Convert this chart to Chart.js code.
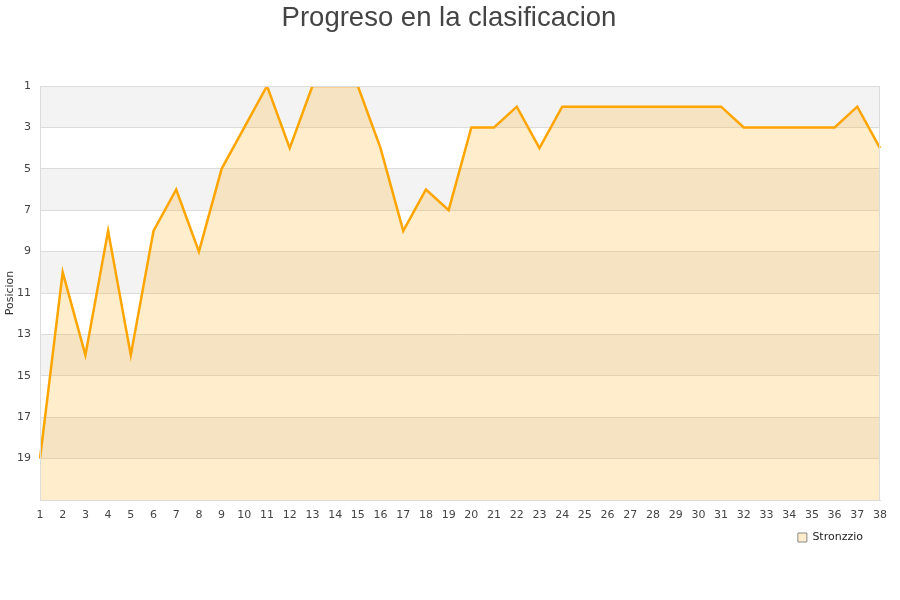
<!DOCTYPE html>
<html>
<head>
<meta charset="utf-8">
<script src="https://cdn.jsdelivr.net/npm/chart.js@4.4.0/dist/chart.umd.min.js"></script>
<style>
  html, body { margin: 0; padding: 0; background: #fff; }
  #wrap { width: 900px; height: 600px; }
</style>
</head>
<body>
<div id="wrap"><canvas id="grafico"></canvas></div>
<script>
// Jornadas y posicion de Stronzzio
const jornadas = Array.from({ length: 38 }, (_, i) => String(i + 1));
const posiciones = [19, 10, 14, 8, 14, 8, 6, 9, 5, 3,
                    1, 4, 1, 1, 1, 4, 8, 6, 7, 3,
                    3, 2, 4, 2, 2, 2, 2, 2, 2, 2,
                    2, 3, 3, 3, 3, 3, 2, 4];
const bandasGrises = [[1, 3], [5, 7], [9, 11], [13, 15], [17, 19]];

// Bandas alternas en el fondo del area de dibujo
const fondoBandas = {
    id: 'fondoBandas',
    afterLayout(chart) {
        // la leyenda queda algo separada del borde derecho
        if (chart.legend) chart.legend.right -= 11;
        // el titulo va centrado en todo el lienzo
        if (chart.titleBlock) chart.titleBlock.left += 18;
    },
    beforeDraw(chart) {
        const { ctx, chartArea: a, scales: { y } } = chart;
        ctx.save();
        ctx.fillStyle = '#f3f3f3';
        bandasGrises.forEach(([d, h]) => {
            const y1 = y.getPixelForValue(d);
            const y2 = y.getPixelForValue(h);
            ctx.fillRect(a.left, y1, a.right - a.left, y2 - y1);
        });
        ctx.restore();
    },
    afterDatasetsDraw(chart) {
        const { ctx, chartArea: a } = chart;
        ctx.save();
        ctx.strokeStyle = '#dcdcdc';
        ctx.lineWidth = 1;
        ctx.strokeRect(a.left + 0.5, a.top + 0.5, a.right - a.left - 1, a.bottom - a.top);
        ctx.restore();
    }
};

new Chart(document.getElementById('grafico'), {
    type: 'line',
    data: {
        labels: jornadas,
        datasets: [{
            label: 'Stronzzio',
            data: posiciones,
            borderColor: '#ffa500',
            backgroundColor: 'rgba(255,165,0,0.2)',
            borderWidth: 2.5,
            pointRadius: 0,
            tension: 0,
            fill: { value: 21 }
        }]
    },
    options: {
        responsive: true,
        maintainAspectRatio: false,
        animation: false,
        layout: { padding: { left: 0, right: 20, top: 0, bottom: 47 } },
        plugins: {
            title: {
                display: true,
                text: 'Progreso en la clasificacion',
                color: '#444',
                font: { family: 'Liberation Sans', size: 27.5, weight: 'normal' },
                padding: { top: 2, bottom: 51 }
            },
            legend: {
                position: 'bottom',
                align: 'end',
                labels: {
                    boxWidth: 9,
                    boxHeight: 9,
                    padding: 6,
                    color: '#222',
                    font: { family: 'DejaVu Sans', size: 11 },
                    generateLabels: () => [{
                        text: 'Stronzzio',
                        fillStyle: 'rgba(255,165,0,0.2)',
                        strokeStyle: '#888',
                        lineWidth: 1,
                        fontColor: '#222'
                    }]
                }
            },
            tooltip: { enabled: false }
        },
        scales: {
            x: {
                offset: false,
                grid: { display: false },
                border: { color: '#dcdcdc' },
                ticks: {
                    color: '#444',
                    maxRotation: 0,
                    autoSkip: false,
                    padding: 1,
                    font: { family: 'DejaVu Sans', size: 11 }
                },
                afterFit(s) { s.height = 26; }
            },
            y: {
                reverse: true,
                min: 1,
                max: 21,
                grid: { color: '#dcdcdc', drawTicks: false },
                border: { color: '#dcdcdc' },
                title: {
                    display: true,
                    text: 'Posicion',
                    color: '#333',
                    padding: { top: 4, bottom: 0 },
                    font: { family: 'DejaVu Sans', size: 11 }
                },
                ticks: {
                    stepSize: 2,
                    color: '#444',
                    padding: 9,
                    font: { family: 'DejaVu Sans', size: 11 },
                    callback: v => (v === 21 ? '' : v)
                },
                afterFit(s) { s.width = 40; }
            }
        }
    },
    plugins: [fondoBandas]
});
</script>
</body>
</html>
